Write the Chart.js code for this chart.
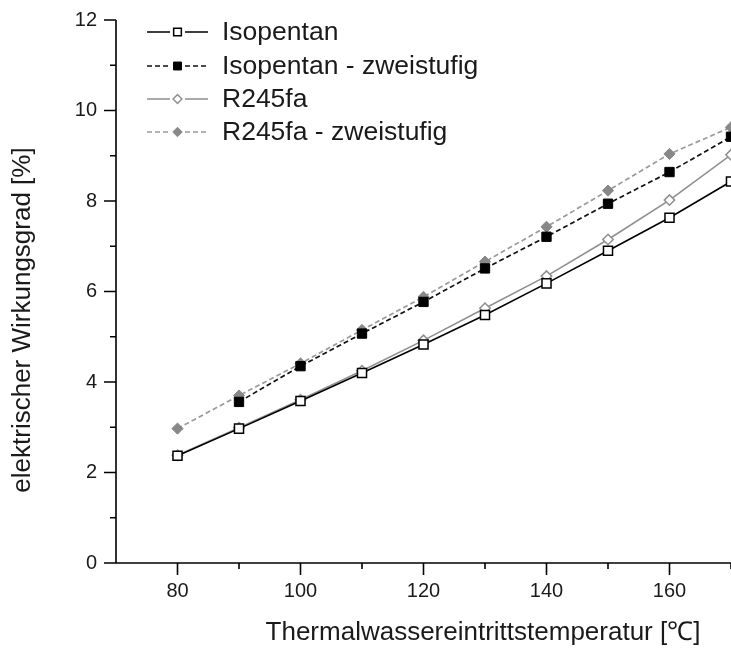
<!DOCTYPE html>
<html>
<head>
<meta charset="utf-8">
<script src="https://cdn.jsdelivr.net/npm/chart.js@4.4.1/dist/chart.umd.min.js"></script>
<style>
  html, body { margin: 0; padding: 0; background: #fff; }
  #wrap { width: 731px; height: 650px; }
</style>
</head>
<body>
<div id="wrap"><canvas id="c" width="731" height="650"></canvas></div>
<script>
// ---- data ----
const temperatures = [80, 90, 100, 110, 120, 130, 140, 150, 160, 170];
const isopentan = [2.37, 2.97, 3.58, 4.20, 4.83, 5.48, 6.18, 6.90, 7.63, 8.43];
const isopentanZweistufig = [null, 3.56, 4.35, 5.07, 5.77, 6.51, 7.21, 7.94, 8.64, 9.42];
const r245fa = [2.38, 2.99, 3.61, 4.25, 4.92, 5.63, 6.34, 7.15, 8.02, 9.02];
const r245faZweistufig = [2.97, 3.70, 4.41, 5.15, 5.88, 6.66, 7.43, 8.23, 9.04, 9.63];
const seriesNames = ['Isopentan', 'Isopentan - zweistufig', 'R245fa', 'R245fa - zweistufig'];
const xTitle = 'Thermalwassereintrittstemperatur [\u2103]';
const yTitle = 'elektrischer Wirkungsgrad [%]';

const FONT = '"Liberation Sans", Arial, sans-serif';
const toXY = arr => temperatures.map((t, i) => ({x: t, y: arr[i]}));

const datasets = [
  { label: seriesNames[0], data: toXY(isopentan), borderColor: '#000', borderWidth: 1.6,
    pointStyle: 'rect', pointRadius: 6.4, pointBackgroundColor: '#fff', pointBorderColor: '#000', pointBorderWidth: 1.5,
    borderDash: [] },
  { label: seriesNames[1], data: toXY(isopentanZweistufig), borderColor: '#111', borderWidth: 1.7,
    pointStyle: 'rect', pointRadius: 6.6, pointBackgroundColor: '#000', pointBorderColor: '#000', pointBorderWidth: 1,
    borderDash: [5, 3] },
  { label: seriesNames[2], data: toXY(r245fa), borderColor: '#8f8f8f', borderWidth: 1.6,
    pointStyle: 'rectRot', pointRadius: 5.2, pointBackgroundColor: '#fff', pointBorderColor: '#8f8f8f', pointBorderWidth: 1.5,
    borderDash: [] },
  { label: seriesNames[3], data: toXY(r245faZweistufig), borderColor: '#9a9a9a', borderWidth: 1.7,
    pointStyle: 'rectRot', pointRadius: 5.6, pointBackgroundColor: '#888', pointBorderColor: '#888', pointBorderWidth: 1,
    borderDash: [5, 3] }
];
datasets.forEach(d => { d.fill = false; d.tension = 0; d.clip = false; d.spanGaps = false; });

function drawMarker(ctx, style, x, y, r, fill, stroke, lw) {
  ctx.beginPath();
  if (style === 'rect') {
    const s = r * Math.SQRT1_2;
    ctx.rect(x - s, y - s, 2 * s, 2 * s);
  } else {
    ctx.moveTo(x - r, y); ctx.lineTo(x, y - r); ctx.lineTo(x + r, y); ctx.lineTo(x, y + r); ctx.closePath();
  }
  ctx.fillStyle = fill; ctx.fill();
  ctx.lineWidth = lw; ctx.strokeStyle = stroke; ctx.stroke();
}

const decor = {
  id: 'decor',
  afterDraw(chart) {
    const {ctx, chartArea: a, scales: {x, y}} = chart;
    ctx.save();
    // axis lines and ticks
    ctx.strokeStyle = '#000';
    ctx.lineWidth = 1.6;
    ctx.setLineDash([]);
    ctx.beginPath();
    ctx.moveTo(a.left, a.top); ctx.lineTo(a.left, a.bottom); ctx.lineTo(a.right, a.bottom);
    y.ticks.forEach(t => {
      const p = y.getPixelForValue(t.value);
      const len = t.value % 2 === 0 ? 12 : 6;
      ctx.moveTo(a.left - len, p); ctx.lineTo(a.left, p);
    });
    x.ticks.forEach(t => {
      if (t.value <= x.min) return;
      const p = x.getPixelForValue(t.value);
      const len = t.value % 20 === 0 ? 12 : 6;
      ctx.moveTo(p, a.bottom); ctx.lineTo(p, a.bottom + len);
    });
    ctx.stroke();

    // axis titles
    ctx.fillStyle = '#1a1a1a';
    ctx.font = '26px ' + FONT;
    ctx.textAlign = 'center';
    ctx.textBaseline = 'middle';
    ctx.fillText(xTitle, 483, 633);
    ctx.save();
    ctx.translate(23, 320);
    ctx.rotate(-Math.PI / 2);
    ctx.fillText(yTitle, 0, 0);
    ctx.restore();

    // legend
    const rows = [32, 66, 99, 132];
    chart.data.datasets.forEach((d, i) => {
      const cy = rows[i];
      ctx.strokeStyle = d.borderColor;
      ctx.lineWidth = d.borderWidth;
      ctx.setLineDash(d.borderDash);
      ctx.beginPath();
      ctx.moveTo(147, cy); ctx.lineTo(170, cy);
      ctx.moveTo(185, cy); ctx.lineTo(208, cy);
      ctx.stroke();
      ctx.setLineDash([]);
      drawMarker(ctx, d.pointStyle, 177.5, cy, d.pointRadius * 0.85, d.pointBackgroundColor, d.pointBorderColor, d.pointBorderWidth);
      ctx.fillStyle = '#1a1a1a';
      ctx.font = '26.5px ' + FONT;
      ctx.textAlign = 'left';
      ctx.textBaseline = 'middle';
      ctx.fillText(d.label, 222, cy + 1);
    });
    ctx.restore();
  }
};

new Chart(document.getElementById('c'), {
  type: 'line',
  data: { datasets },
  options: {
    responsive: false,
    animation: false,
    devicePixelRatio: 1,
    layout: { autoPadding: false, padding: { top: 20, right: 0, left: 0, bottom: 0 } },
    plugins: { legend: { display: false }, tooltip: { enabled: false } },
    scales: {
      x: {
        type: 'linear', min: 70, max: 170,
        afterFit: s => { s.height = 87; s.paddingRight = 0; s.paddingLeft = 0; },
        grid: { display: false, drawTicks: false },
        border: { display: false },
        ticks: {
          stepSize: 10, autoSkip: false, maxRotation: 0, padding: 16,
          color: '#1a1a1a', font: { family: FONT, size: 20 },
          callback: v => (v % 20 === 0 && v > 70 && v < 170) ? String(v) : ''
        }
      },
      y: {
        min: 0, max: 12,
        afterFit: s => { s.width = 116; s.paddingTop = 0; s.paddingBottom = 0; },
        grid: { display: false, drawTicks: false },
        border: { display: false },
        ticks: {
          stepSize: 1, autoSkip: false, padding: 19,
          color: '#1a1a1a', font: { family: FONT, size: 20 },
          callback: v => v % 2 === 0 ? String(v) : ''
        }
      }
    }
  },
  plugins: [decor]
});
</script>
</body>
</html>
